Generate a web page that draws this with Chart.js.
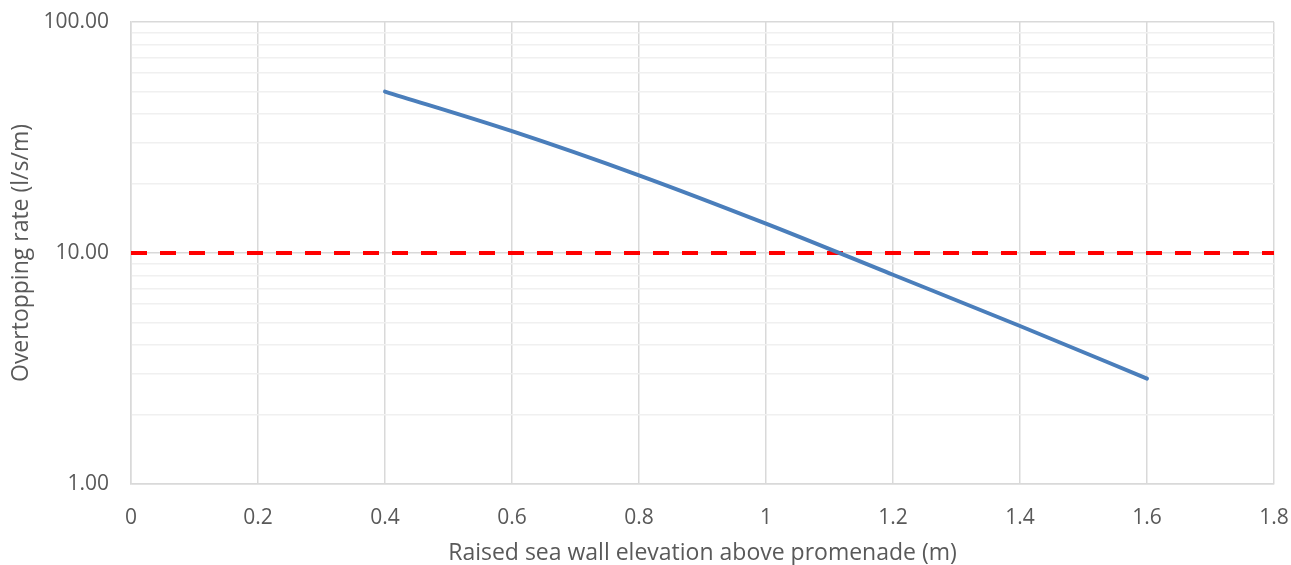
<!DOCTYPE html>
<html>
<head>
<meta charset="utf-8">
<script src="https://cdn.jsdelivr.net/npm/chart.js@4.4.1/dist/chart.umd.min.js"></script>
<style>
  html, body { margin: 0; padding: 0; background: #fff; }
  #wrap { position: relative; width: 1291px; height: 565px; }
</style>
</head>
<body>
<div id="wrap"><canvas id="chart"></canvas></div>
<script>
// wall heights (m) and overtopping rates (l/s/m)
const wallHeights = [0.4, 0.6, 0.8, 1.0, 1.2, 1.4, 1.6];
const overtopping = [50.0, 33.7, 21.7, 13.4, 8.05, 4.83, 2.86];

// tolerable limit line
const limitX = [0, 1.8];
const limitY = [10, 10];

const xTicks = [0, 0.2, 0.4, 0.6, 0.8, 1, 1.2, 1.4, 1.6, 1.8];
const yTicks = [1, 2, 3, 4, 5, 6, 7, 8, 9, 10, 20, 30, 40, 50, 60, 70, 80, 90, 100];
const yLabelled = [1, 10, 100];

const FONT = '"Open Sans", sans-serif';
const TXT = '#595959';

const toPoints = (xs, ys) => xs.map((x, i) => ({x, y: ys[i]}));

new Chart(document.getElementById('chart'), {
  type: 'line',
  data: {
    datasets: [
      {
        label: 'Overtopping',
        data: toPoints(wallHeights, overtopping),
        borderColor: '#4a7ebb',
        borderWidth: 4,
        pointRadius: 0,
        tension: 0.4,
        cubicInterpolationMode: 'monotone',
        borderCapStyle: 'round'
      },
      {
        label: 'Limit',
        data: toPoints(limitX, limitY),
        borderColor: '#ff0000',
        borderWidth: 4,
        borderDash: [16, 13],
        pointRadius: 0
      }
    ]
  },
  options: {
    responsive: true,
    maintainAspectRatio: false,
    animation: false,
    layout: {padding: {left: 0, right: 17, top: 22, bottom: 0}},
    plugins: {legend: {display: false}, tooltip: {enabled: false}},
    scales: {
      x: {
        type: 'linear',
        min: 0,
        max: 1.8,
        afterBuildTicks: s => { s.ticks = xTicks.map(v => ({value: v})); },
        afterFit: s => {
          s.height = 81;
          s.paddingLeft = 0;
          s.paddingRight = 0;
        },
        grid: {color: '#d9d9d9', lineWidth: 1.5, drawTicks: false},
        border: {color: '#d9d9d9', width: 1.5},
        ticks: {
          color: TXT, font: {family: FONT, size: 21}, padding: 21,
          maxRotation: 0, autoSkip: false,
          callback: v => String(Math.round(v * 10) / 10)
        },
        title: {
          display: true,
          text: 'Raised sea wall elevation above promenade (m)',
          color: TXT, font: {family: FONT, size: 23, lineHeight: 1}, padding: {top: 0, bottom: 0}
        }
      },
      y: {
        type: 'logarithmic',
        min: 1,
        max: 100,
        afterBuildTicks: s => { s.ticks = yTicks.map(v => ({value: v})); },
        afterFit: s => {
          s.width = 131;
          s.paddingTop = 0;
          s.paddingBottom = 0;
        },
        grid: {
          color: c => yLabelled.includes(c.tick && c.tick.value) ? '#d9d9d9' : '#f0f0f0',
          lineWidth: 1.5,
          drawTicks: false
        },
        border: {color: '#d9d9d9', width: 1.5},
        ticks: {
          color: TXT, font: {family: FONT, size: 21}, padding: 22,
          autoSkip: false,
          callback: v => yLabelled.includes(v) ? v.toFixed(2) : ''
        },
        title: {
          display: true,
          text: 'Overtopping rate (l/s/m)',
          color: TXT, font: {family: FONT, size: 23, lineHeight: 1}, padding: {top: 10, bottom: 0}
        }
      }
    }
  }
});
</script>
</body>
</html>
